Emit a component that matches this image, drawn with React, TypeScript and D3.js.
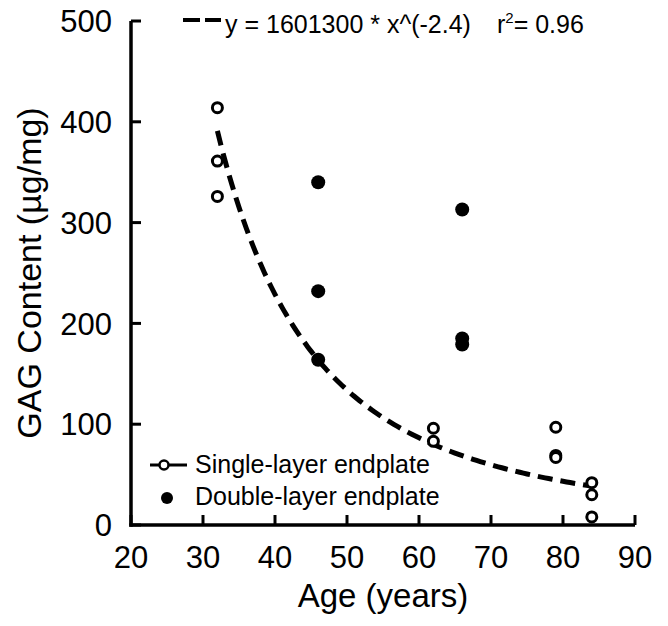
import * as d3 from 'd3';

// open circles: single-layer endplate
const singleAges = [32, 32, 32, 62, 62, 79, 79, 79, 84, 84, 84];
const singleGag = [414, 361, 326, 96, 83, 97, 69, 67, 42, 30, 8];

// filled circles: double-layer endplate
const doubleAges = [46, 46, 46, 66, 66, 66];
const doubleGag = [340, 232, 164, 313, 185, 179];

const xTicks = [20, 30, 40, 50, 60, 70, 80, 90];
const yTicks = [0, 100, 200, 300, 400, 500];

// power fit shown in the header
const fitA = 1601300;
const fitB = -2.4;
const fitRange = [32, 84];

const W = 668;
const H = 626;
const FONT = '"Liberation Sans", Arial, Helvetica, sans-serif';

const App = () => {
  const x = d3.scaleLinear().domain([20, 90]).range([131, 635]);
  const y = d3.scaleLinear().domain([0, 500]).range([525, 21]);

  const fitPts = d3.range(fitRange[0], fitRange[1] + 0.001, 0.5).map(a => [a, fitA * Math.pow(a, fitB)] as [number, number]);
  const fitPath = d3.line<[number, number]>()
    .x(d => x(d[0]))
    .y(d => y(d[1]))
    .curve(d3.curveMonotoneX)(fitPts) || '';

  const x0 = x(20);
  const y0 = y(0);

  return (
    <svg width={W} height={H} viewBox={`0 0 ${W} ${H}`} style={{ position: 'absolute', left: 0, top: 0, background: '#fff' }}>
      {/* fit curve */}
      <path d={fitPath} fill="none" stroke="#000" strokeWidth={5} strokeDasharray="15,8" />

      {/* axes */}
      <line x1={x0} x2={x0} y1={y(500)} y2={y0 + 1.75} stroke="#000" strokeWidth={3.5} />
      <line x1={x0 - 1.75} x2={x(90)} y1={y0} y2={y0} stroke="#000" strokeWidth={3.5} />
      {yTicks.map(t => (
        <g key={'y' + t}>
          <line x1={x0} x2={x0 + 10} y1={y(t)} y2={y(t)} stroke="#000" strokeWidth={3} />
          <text x={112} y={y(t)} dy="0.36em" textAnchor="end" fontSize={31} fontFamily={FONT}>{t}</text>
        </g>
      ))}
      {xTicks.map(t => (
        <g key={'x' + t}>
          <line x1={x(t)} x2={x(t)} y1={y0} y2={y0 - 10} stroke="#000" strokeWidth={3} />
          <text x={x(t)} y={568} textAnchor="middle" fontSize={31} fontFamily={FONT}>{t}</text>
        </g>
      ))}

      {/* axis titles */}
      <text x={383} y={607} textAnchor="middle" fontSize={33} fontFamily={FONT}>Age (years)</text>
      <text transform={`translate(41, ${(y(0) + y(500)) / 2}) rotate(-90)`} textAnchor="middle" fontSize={34} fontFamily={FONT}>GAG Content (µg/mg)</text>

      {/* points */}
      {doubleAges.map((a, i) => (
        <circle key={'d' + i} cx={x(a)} cy={y(doubleGag[i])} r={7} fill="#000" />
      ))}
      {singleAges.map((a, i) => (
        <circle key={'s' + i} cx={x(a)} cy={y(singleGag[i])} r={5} fill="#fff" stroke="#000" strokeWidth={3} />
      ))}

      {/* header with fit equation */}
      <line x1={183} x2={221} y1={20} y2={20} stroke="#000" strokeWidth={4} strokeDasharray="17,5" />
      <text x={225} y={33} fontSize={25} fontFamily={FONT}>
        y = 1601300 * x^(-2.4)
        <tspan x={497}>r</tspan>
        <tspan fontSize={15} dy={-10}>2</tspan>
        <tspan dy={10}>= 0.96</tspan>
      </text>

      {/* legend */}
      <line x1={150} x2={187} y1={465} y2={465} stroke="#000" strokeWidth={3} />
      <circle cx={164} cy={465} r={4.5} fill="#fff" stroke="#000" strokeWidth={2.5} />
      <text x={195} y={473} fontSize={25} fontFamily={FONT}>Single-layer endplate</text>
      <circle cx={167} cy={498} r={6} fill="#000" />
      <text x={195} y={505} fontSize={25} fontFamily={FONT}>Double-layer endplate</text>
    </svg>
  );
};

export default App;
